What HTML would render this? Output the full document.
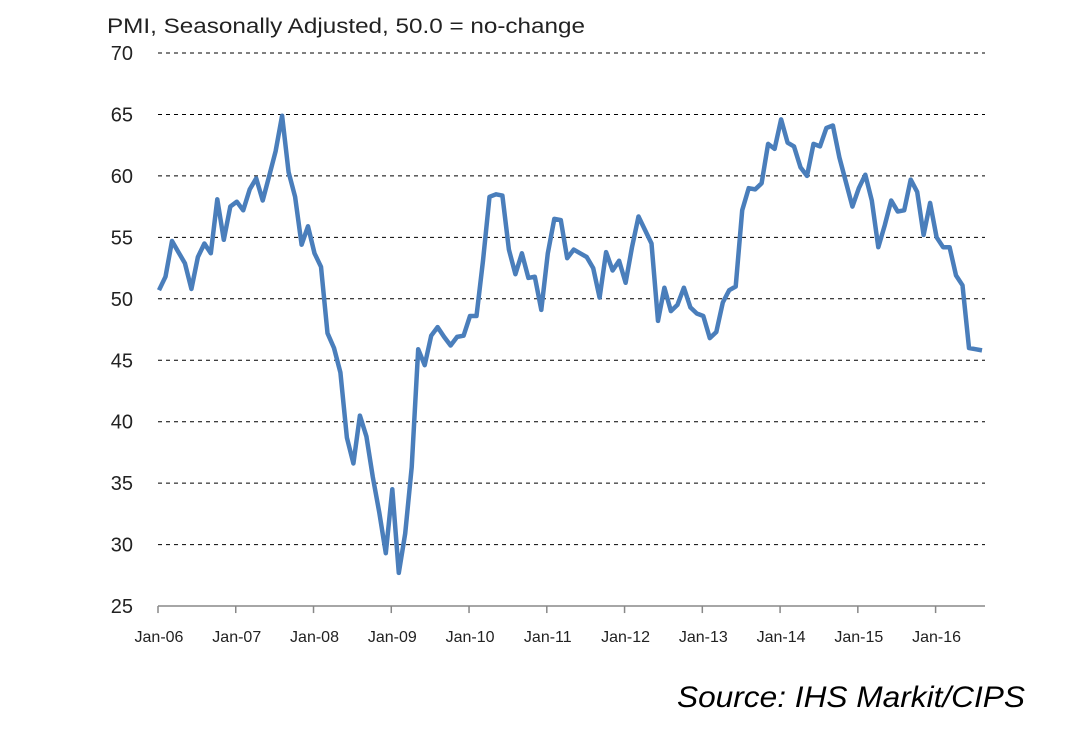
<!DOCTYPE html>
<html><head><meta charset="utf-8"><style>
body{margin:0;background:#fff;width:1086px;height:730px;overflow:hidden;font-family:"Liberation Sans",sans-serif}
svg{display:block}
</style></head><body>
<svg id="chart" width="1086" height="730" xmlns="http://www.w3.org/2000/svg">
<text x="107" y="33" font-size="21" fill="#222" textLength="478" lengthAdjust="spacingAndGlyphs">PMI, Seasonally Adjusted, 50.0 = no-change</text>
<g id="grid"></g><g id="axes"></g>
<path id="line" fill="none" stroke="#4a7ebb" stroke-width="4.5" stroke-linejoin="round"/>
<text x="1025" y="707" text-anchor="end" font-size="30" font-style="italic" fill="#000" textLength="348" lengthAdjust="spacingAndGlyphs">Source: IHS Markit/CIPS</text>
</svg>
<script>
const startYear = 2006;
const yTicks = [25,30,35,40,45,50,55,60,65,70];
const xTickLabels = ["Jan-06","Jan-07","Jan-08","Jan-09","Jan-10","Jan-11","Jan-12","Jan-13","Jan-14","Jan-15","Jan-16"];
const pmiValues = [
50.7,51.8,54.7,53.8,52.9,50.8,53.4,54.5,53.7,58.1,54.8,57.5,
57.9,57.2,58.9,59.8,58.0,60.0,62.0,64.9,60.3,58.3,54.4,55.9,
53.7,52.6,47.2,46.0,44.0,38.7,36.6,40.5,38.8,35.5,32.6,29.3,
34.5,27.7,30.9,36.3,45.9,44.6,47.0,47.7,46.9,46.2,46.9,47.0,
48.6,48.6,53.1,58.3,58.5,58.4,54.0,52.0,53.7,51.7,51.8,49.1,
53.7,56.5,56.4,53.3,54.0,53.7,53.4,52.5,50.1,53.8,52.3,53.1,
51.3,54.2,56.7,55.6,54.5,48.2,50.9,49.0,49.5,50.9,49.3,48.8,
48.6,46.8,47.3,49.7,50.7,51.0,57.2,59.0,58.9,59.4,62.6,62.2,
64.6,62.7,62.4,60.7,60.0,62.6,62.4,63.9,64.1,61.5,59.5,57.5,
59.0,60.1,58.0,54.2,56.0,58.0,57.1,57.2,59.7,58.7,55.2,57.8,
55.0,54.2,54.2,51.9,51.1,46.0,45.9,45.8];
const NS="http://www.w3.org/2000/svg";
const x = m => 159 + m*6.48;
const y = v => 53 + (70 - v)*12.29;
const grid=document.getElementById('grid'), axes=document.getElementById('axes');
function mk(tag, attrs, parent){const e=document.createElementNS(NS,tag);for(const k in attrs)e.setAttribute(k,attrs[k]);parent.appendChild(e);return e;}
yTicks.forEach(t=>{
  if(t>25){const l=mk('line',{x1:158,x2:985,y1:y(t),y2:y(t),stroke:'#000','stroke-width':1,'stroke-dasharray':'4,4'},grid);
  
  }
  const tx=mk('text',{x:133,y:y(t)+7,'text-anchor':'end','font-size':20,fill:'#222'},axes);
  tx.textContent=t;
  
  
});
const ax=mk('line',{x1:158,x2:985,y1:y(25),y2:y(25),stroke:'#888','stroke-width':1.5},axes);


xTickLabels.forEach((lab,i)=>{
  const tk=mk('line',{x1:x(i*12)-1,x2:x(i*12)-1,y1:y(25),y2:y(25)+7,stroke:'#888','stroke-width':1.5},axes);
  
  
  const tx=mk('text',{x:x(i*12),y:642,'text-anchor':'middle','font-size':16,fill:'#222'},axes);
  tx.textContent=lab;
  
  
});
document.getElementById('line').setAttribute('d',pmiValues.map((v,i)=>(i?'L':'M')+x(i).toFixed(1)+','+y(v).toFixed(1)).join(''));
</script>
</body></html>
